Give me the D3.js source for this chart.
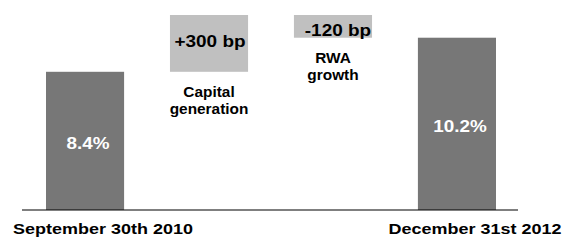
<!DOCTYPE html>
<html><head><meta charset="utf-8">
<script src="https://cdn.jsdelivr.net/npm/d3@7"></script>
<style>
html,body{margin:0;padding:0;background:#fff;}
svg{display:block;font-family:"Liberation Sans",Arial,sans-serif;font-weight:bold;}
</style></head>
<body>
<svg id="c" width="565" height="240"></svg>
<script>
// Data
const categories = ["September 30th 2010", "Capital generation", "RWA growth", "December 31st 2012"];
const kinds = ["total", "delta", "delta", "total"];
const values = [8.4, 3.0, -1.2, 10.2];             // % / change in percentage points
const valueLabels = ["8.4%", "+300 bp", "-120 bp", "10.2%"];
const bottomLabels = ["September 30th 2010", "", "", "December 31st 2012"];
const deltaLabels = [[], ["Capital", "generation"], ["RWA", "growth"], []];
const axisFloor = 1.1;                            // value at the baseline (truncated axis)

// Build waterfall
let run = 0;
const bars = categories.map((c, i) => {
  let y0, y1;
  if (kinds[i] === "total") { y0 = axisFloor; y1 = values[i]; run = values[i]; }
  else { y0 = run; y1 = run + values[i]; run = y1; }
  return {cat: c, kind: kinds[i], lo: Math.min(y0, y1), hi: Math.max(y0, y1), v: values[i], i};
});

const svg = d3.select("#c");
const x = d3.scaleBand().domain(categories).range([46, 496]).paddingInner(0.37).paddingOuter(0);
const y = d3.scaleLinear().domain([axisFloor, d3.max(bars, d => d.hi)]).range([210, 15]);

svg.selectAll("rect.bar").data(bars).join("rect")
  .attr("x", d => x(d.cat)).attr("width", x.bandwidth())
  .attr("y", d => y(d.hi)).attr("height", d => y(d.lo) - y(d.hi))
  .attr("fill", d => d.kind === "total" ? "#777777" : "#c0c0c0");

// axis baseline
svg.append("line").attr("x1", 22).attr("x2", 518)
  .attr("y1", y(axisFloor)).attr("y2", y(axisFloor))
  .attr("stroke", "#000").attr("stroke-width", 1.2);

function stretchedText(g, cx, cy, txt, size, fill, sx) {
  g.append("text")
    .attr("transform", `translate(${cx},${cy}) scale(${sx},1)`)
    .attr("text-anchor", "middle").attr("font-size", size).attr("fill", fill)
    .text(txt);
}

const g = svg.append("g");
bars.forEach(d => {
  const cx = x(d.cat) + x.bandwidth() / 2;
  if (d.kind === "total") {
    const mid = (y(d.lo) + y(d.hi)) / 2;
    stretchedText(g, cx + 3, mid + 8, valueLabels[d.i], 16, "#fff", 1.18);
    stretchedText(g, cx + 18, 234, bottomLabels[d.i], 14.5, "#000", 1.24);
  } else {
    const top = y(d.hi), bot = y(d.lo);
    if (d.v > 0) stretchedText(g, cx + 1, top + 31.5, valueLabels[d.i], 16.5, "#000", 1.15);
    else stretchedText(g, cx + 5, top + 20.5, valueLabels[d.i], 16.5, "#000", 1.15);
    deltaLabels[d.i].forEach((t, k) => {
      stretchedText(g, cx, bot + 25.5 + k * 16.5, t, 14, "#000", 1.1);
    });
  }
});
</script>
</body></html>
